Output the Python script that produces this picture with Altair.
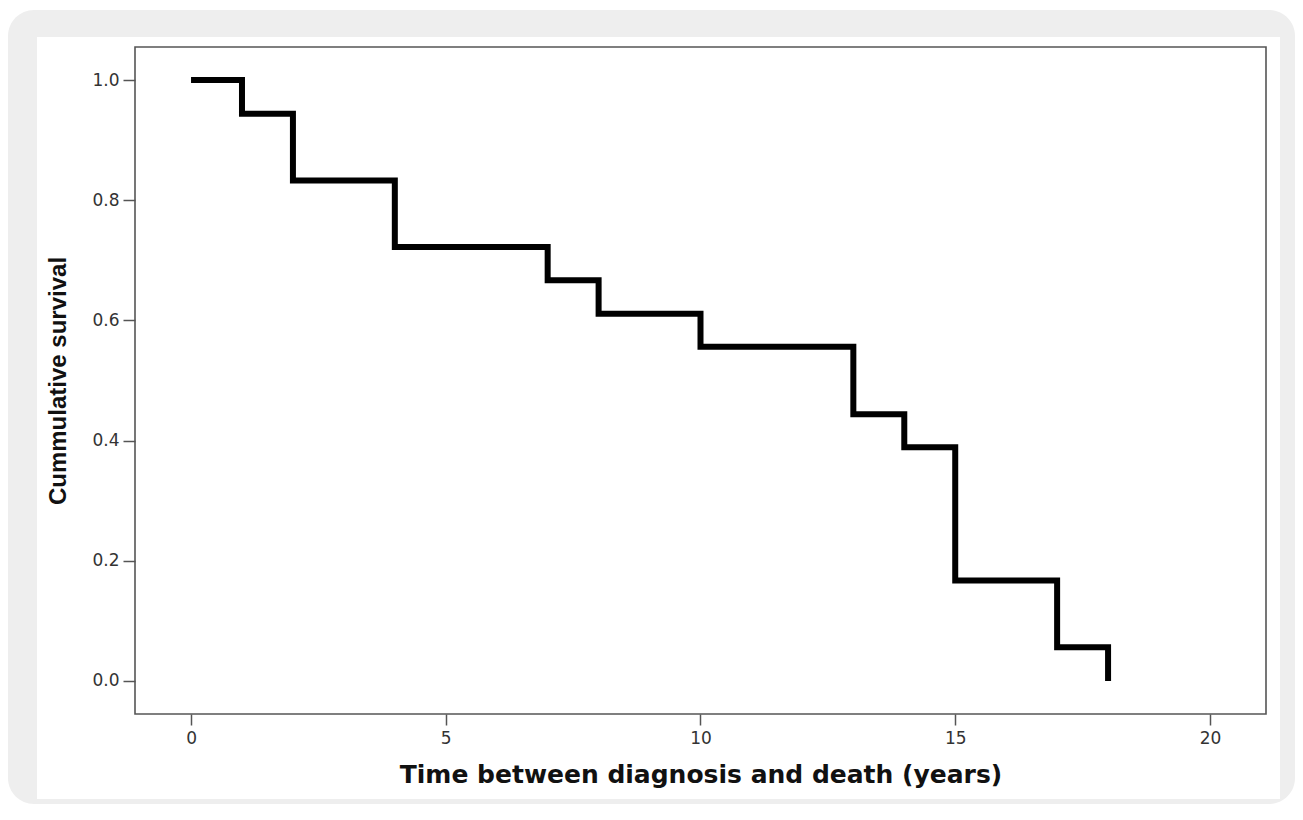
import altair as alt
import pandas as pd

# ---- data ----
time_years = [0, 1, 2, 4, 7, 8, 10, 13, 14, 15, 17, 18]
survival = [1.0, 0.944, 0.833, 0.722, 0.667, 0.611, 0.556, 0.444, 0.389, 0.167, 0.056, 0.0]
x_ticks = [0, 5, 10, 15, 20]
y_ticks = [0.0, 0.2, 0.4, 0.6, 0.8, 1.0]
x_title = "Time between diagnosis and death (years)"
y_title = "Cummulative survival"

df = pd.DataFrame({"t": time_years, "s": survival})
one = pd.DataFrame({"k": [0]})

W, H = 1131, 667

x_scale = alt.Scale(domain=[-1.1, 21.1], nice=False, zero=False)
y_scale = alt.Scale(domain=[-0.055, 1.055], nice=False, zero=False)

# decorative frame (gray rounded card with white panel)
outer = alt.Chart(one).mark_rect(fill="#eeeeee", cornerRadius=26).encode(
    x=alt.value(-127), x2=alt.value(1160), y=alt.value(-37), y2=alt.value(757)
)
inner = alt.Chart(one).mark_rect(fill="#ffffff").encode(
    x=alt.value(-98), x2=alt.value(1145), y=alt.value(-10), y2=alt.value(752)
)
frame = alt.Chart(one).mark_rect(filled=False, stroke="#555555", strokeWidth=1.6).encode(
    x=alt.value(0), x2=alt.value("width"), y=alt.value(0), y2=alt.value("height")
)

line = alt.Chart(df).mark_line(
    interpolate="step-after", color="#000000", strokeWidth=6,
    strokeJoin="miter", strokeCap="butt"
).encode(
    x=alt.X("t:Q", scale=x_scale, axis=alt.Axis(
        values=x_ticks, format="d", title=x_title,
        titleFont="DejaVu Sans", titleFontWeight="bold", titleFontSize=25,
        titleColor="#111111", titleBaseline="alphabetic", titleX=W / 2, titleY=68,
        labelFont="DejaVu Sans", labelFontSize=17, labelColor="#333333",
        labelPadding=5, labelFlush=False,
        tickSize=11, tickColor="#555555", tickWidth=1.5,
        domain=False, grid=False, zindex=1,
    )),
    y=alt.Y("s:Q", scale=y_scale, axis=alt.Axis(
        values=y_ticks, format=".1f", title=y_title,
        titleFont="Liberation Sans", titleFontWeight="bold", titleFontSize=24,
        titleColor="#111111",
        titleAngle=270, titleBaseline="alphabetic", titleAlign="center",
        titleX=-70, titleY=H / 2,
        labelFont="DejaVu Sans", labelFontSize=17, labelColor="#333333",
        labelPadding=4, labelFlush=False,
        tickSize=12, tickColor="#555555", tickWidth=1.5,
        domain=False, grid=False, zindex=1,
    )),
)

chart = alt.layer(outer, inner, frame, line).properties(
    width=W, height=H,
    autosize=alt.AutoSizeParams(type="none"),
    padding={"left": 127, "top": 39, "right": 29, "bottom": 90},
    background="#ffffff",
).configure_view(stroke=None)

chart.save("out.html", embed_options={"renderer": "svg", "actions": False})
